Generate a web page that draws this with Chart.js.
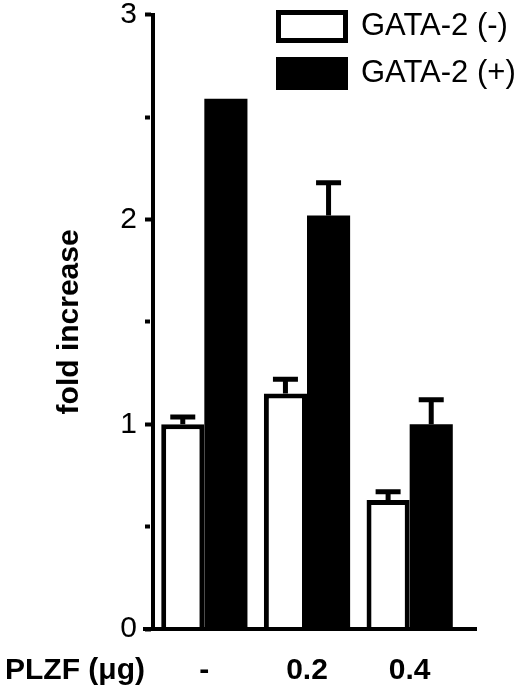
<!DOCTYPE html>
<html>
<head>
<meta charset="utf-8">
<style>
  html, body { margin: 0; padding: 0; background: #fff; }
  #wrap { width: 520px; height: 692px; }
</style>
</head>
<body>
<div id="wrap"><canvas id="myChart" width="520" height="692"></canvas></div>
<script src="https://cdn.jsdelivr.net/npm/chart.js@4.4.1/dist/chart.umd.min.js"></script>
<script>
// values
var categories = ["-", "0.2", "0.4"];
var seriesNames = ["GATA-2 (-)", "GATA-2 (+)"];
var gataMinus = [1.0, 1.15, 0.63];
var gataPlus = [2.59, 2.02, 1.0];
var errMinus = [0.035, 0.07, 0.04];
var errPlus = [0, 0.16, 0.12];
var yTicks = [0, 1, 2, 3];
var xName = "PLZF (\u03bcg)";
var yName = "fold increase";

Chart.defaults.font.family = "'Liberation Sans', Arial, sans-serif";
Chart.defaults.color = "#000";

// upward-only error bars
var errorBars = {
  id: "errorBars",
  afterDatasetsDraw: function (chart) {
    var ctx = chart.ctx;
    var y = chart.scales.y;
    ctx.save();
    ctx.strokeStyle = "#000";
    ctx.lineWidth = 5;
    chart.data.datasets.forEach(function (ds, i) {
      var meta = chart.getDatasetMeta(i);
      meta.data.forEach(function (bar, j) {
        var e = ds.errors[j];
        if (!e) return;
        var top = y.getPixelForValue(ds.data[j] + e);
        ctx.beginPath();
        ctx.moveTo(bar.x, bar.y);
        ctx.lineTo(bar.x, top);
        ctx.moveTo(bar.x - 12.5, top);
        ctx.lineTo(bar.x + 12.5, top);
        ctx.stroke();
      });
    });
    ctx.restore();
  }
};

// long base line + left label of the x axis
var baseline = {
  id: "baseline",
  afterDatasetsDraw: function (chart) {
    var a = chart.chartArea;
    var ctx = chart.ctx;
    var y0 = chart.scales.y.getPixelForValue(0);
    ctx.save();
    ctx.strokeStyle = "#000";
    ctx.lineWidth = 4;
    ctx.beginPath();
    ctx.moveTo(a.left - 10, y0);
    ctx.lineTo(a.right + 16, y0);
    ctx.stroke();
    ctx.fillStyle = "#000";
    ctx.font = "bold 30px 'Liberation Sans', Arial, sans-serif";
    ctx.textAlign = "left";
    ctx.textBaseline = "middle";
    ctx.fillText(xName, 5, chart.scales.x.top + 24 + 18);
    ctx.restore();
  }
};

// put the legend in the upper right corner
var legendSpot = {
  id: "legendSpot",
  afterLayout: function (chart) {
    var lg = chart.legend;
    lg.left = 262.5;
    lg.top = -5;
    lg.right = 520;
    lg.bottom = 200;
  }
};

new Chart("myChart", {
  type: "bar",
  data: {
    labels: categories,
    datasets: [{
      label: seriesNames[0],
      data: gataMinus,
      errors: errMinus,
      backgroundColor: "#fff",
      borderColor: "#000",
      borderWidth: 5
    }, {
      label: seriesNames[1],
      data: gataPlus,
      errors: errPlus,
      backgroundColor: "#000",
      borderWidth: 0
    }]
  },
  options: {
    responsive: false,
    animation: false,
    categoryPercentage: 0.84,
    barPercentage: 1.0,
    layout: { padding: { left: 52, right: 59, top: 0, bottom: 0 } },
    plugins: {
      tooltip: { enabled: false },
      legend: {
        position: "chartArea",
        align: "start",
        labels: {
          boxWidth: 67,
          boxHeight: 28,
          padding: 16,
          color: "#000",
          font: { size: 31 },
          generateLabels: function (chart) {
            var items = Chart.defaults.plugins.legend.labels.generateLabels(chart);
            items.forEach(function (it) {
              it.lineWidth = 5;
              it.strokeStyle = "#000";
            });
            return items;
          }
        }
      }
    },
    scales: {
      x: {
        afterFit: function (s) { s.height = 63; },
        grid: { display: false, drawTicks: false },
        border: { display: false },
        ticks: { padding: 24, color: "#000", font: { size: 30, weight: "bold" } }
      },
      y: {
        min: 0,
        max: 3,
        afterFit: function (s) { s.width = 101; },
        ticks: {
          stepSize: 0.5,
          padding: 8,
          color: "#000",
          font: { size: 30, lineHeight: 0.45 },
          callback: function (v) { return yTicks.indexOf(v) >= 0 ? v : ""; }
        },
        grid: {
          drawOnChartArea: false,
          tickLength: 8,
          tickWidth: 4,
          tickColor: "#000",
          tickBorderDash: function (c) {
            return c.tick && yTicks.indexOf(c.tick.value) < 0 ? [5, 20] : [];
          }
        },
        border: { color: "#000", width: 4 },
        title: {
          display: true,
          text: yName,
          color: "#000",
          padding: 0,
          font: { size: 30, weight: "bold", lineHeight: 1.2 }
        }
      }
    }
  },
  plugins: [errorBars, baseline, legendSpot]
});
</script>
</body>
</html>
